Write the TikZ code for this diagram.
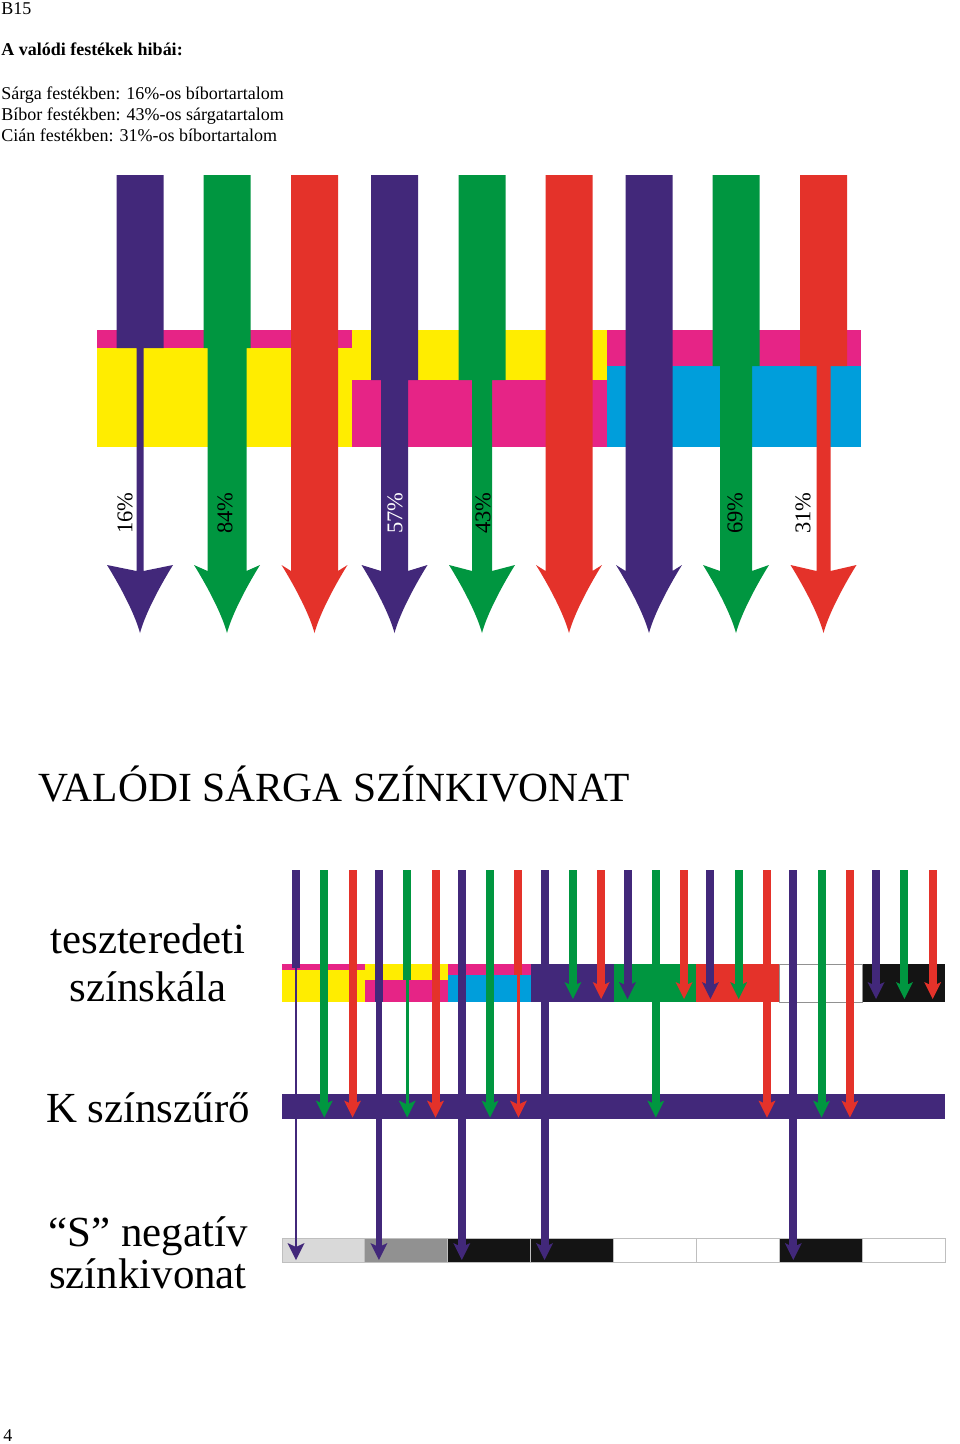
\documentclass[tikz,border=0pt]{standalone}
\usepackage{fontspec}
\setmainfont{Liberation Serif}
\definecolor{lila}{RGB}{66,40,122}
\definecolor{zold}{RGB}{0,150,64}
\definecolor{piros}{RGB}{228,50,42}
\definecolor{bibor}{RGB}{230,36,134}
\definecolor{sarga}{RGB}{255,237,0}
\definecolor{cian}{RGB}{0,158,219}
\definecolor{fekete}{RGB}{20,20,20}
\definecolor{vszurke}{RGB}{217,217,217}
\definecolor{kszurke}{RGB}{145,145,145}
% small arrow head: x, y of the barbs, colour
\newcommand{\kisfej}[3]{\fill[#3] (#1-8.5,#2) -- (#1,#2+4) -- (#1+8.5,#2) -- (#1,#2+17) -- cycle;}
\tikzset{
  szoveg/.style={anchor=base west, inner sep=0, font=\fontsize{12.8}{15}\selectfont},
  szazalek/.style={rotate=90, inner sep=0, font=\fontsize{16}{16}\selectfont},
  felirat/.style={anchor=base, inner sep=0, font=\fontsize{30.5}{31}\selectfont}
}
\begin{document}
\begin{tikzpicture}[x=0.25mm, y=-0.25mm]
  \fill[white] (0,0) rectangle (960,1444);
  \useasboundingbox (0,0) rectangle (960,1444);
  \node[szoveg] (b15) at (1,14) {B15};
  \node[szoveg, font=\fontsize{12.8}{15}\selectfont\bfseries] (cimsor) at (1,55) {A valódi festékek hibái:};
  \node[szoveg] (sor1) at (1,99) {Sárga festékben: 16\%-os bíbortartalom};
  \node[szoveg] (sor2) at (1,120) {Bíbor festékben: 43\%-os sárgatartalom};
  \node[szoveg] (sor3) at (1,141) {Cián festékben: 31\%-os bíbortartalom};
  % festek savok
  \fill[bibor] (97,330) rectangle (352,348);
  \fill[sarga] (97,348) rectangle (352,447);
  \fill[sarga] (352,330) rectangle (607,380);
  \fill[bibor] (352,380) rectangle (607,447);
  \fill[bibor] (607,330) rectangle (861,366);
  \fill[cian] (607,366) rectangle (861,447);
  % nagy nyilak: kozep, also szelesseg, toresi pont, szin
  \foreach \cx/\lw/\by/\col in {140/7/348/lila, 227/39/348/zold, 314.5/47/400/piros,
      394.5/27/380/lila, 482/20/380/zold, 569/47/400/piros,
      649/47/400/lila, 736/32/366/zold, 823.5/14/366/piros}
    \fill[\col] (\cx-23.5,175) -- (\cx+23.5,175) -- (\cx+23.5,\by) -- (\cx+\lw/2,\by)
      -- (\cx+\lw/2,571) -- (\cx+33,565) .. controls (\cx+23,581) and (\cx+6,611) .. (\cx,633)
      .. controls (\cx-6,611) and (\cx-23,581) .. (\cx-33,565) -- (\cx-\lw/2,571)
      -- (\cx-\lw/2,\by) -- (\cx-23.5,\by) -- cycle;
  \node[szazalek] (p16) at (125,513) {16\%};
  \node[szazalek] (p84) at (225,513) {84\%};
  \node[szazalek, white] (p57) at (395,513) {57\%};
  \node[szazalek] (p43) at (483,513) {43\%};
  \node[szazalek] (p69) at (735,513) {69\%};
  \node[szazalek] (p31) at (803,513) {31\%};
  % also resz
  \node[anchor=base west, inner sep=0, font=\fontsize{29.5}{30}\selectfont] (cim) at (38,801) {VALÓDI SÁRGA SZÍNKIVONAT};
  \node[felirat] (teszt1) at (148,953) {teszteredeti};
  \node[felirat] (teszt2) at (148,1001) {színskála};
  \node[felirat] (szuro) at (148,1122) {K színszűrő};
  \node[felirat] (neg1) at (148,1246) {“S” negatív};
  \node[felirat] (neg2) at (148,1288) {színkivonat};
  % teszteredeti szinskala
  \fill[bibor] (282,964) rectangle (364.9,969.5);
  \fill[sarga] (282,969.5) rectangle (364.9,1002);
  \fill[sarga] (364.9,964) rectangle (447.75,980);
  \fill[bibor] (364.9,980) rectangle (447.75,1002);
  \fill[bibor] (447.75,964) rectangle (530.6,975);
  \fill[cian] (447.75,975) rectangle (530.6,1002);
  \foreach \i/\col in {3/lila, 4/zold, 5/piros, 7/fekete}
    \fill[\col] ({282+82.875*\i},964) rectangle ++(82.875,38);
  \draw[kszurke, line width=0.7pt] (779.25,964) rectangle (862.1,1002);
  % K szinszuro
  \fill[lila] (282,1094) rectangle (945,1119);
  % S negativ
  \foreach \i/\col in {0/vszurke, 1/kszurke, 2/fekete, 3/fekete, 4/white, 5/white, 6/fekete, 7/white}
    \filldraw[fill=\col, draw=black!25, line width=0.6pt] ({282+82.875*\i},1238) rectangle ++(82.875,24);
  % vekony nyilak: x, fej helye, szin
  \foreach \x/\h/\col in {461.8/1243/lila, 544.6/1243/lila, 793.3/1243/lila,
      324.3/1100.5/zold, 352.6/1100.5/piros, 435.5/1100.5/piros, 490.1/1100.5/zold,
      655.8/1100.5/zold, 767/1100.5/piros, 821.6/1100.5/zold, 849.9/1100.5/piros,
      572.9/982/zold, 601.2/982/piros, 627.5/982/lila, 684.1/982/piros, 710.4/982/lila,
      738.7/982/zold, 876.1/982/lila, 904.4/982/zold, 932.7/982/piros}
    {\fill[\col] (\x-4,870) rectangle (\x+4,\h+4);
     \kisfej{\x}{\h}{\col}}
  \fill[lila] (292,870) rectangle (300,968);
  \draw[lila, line width=1.1pt] (296,968) -- (296,1247);
  \kisfej{296}{1243}{lila}
  \fill[lila] (374.9,870) rectangle (382.9,1002);
  \fill[lila] (375.9,1002) rectangle (381.9,1247);
  \kisfej{378.9}{1243}{lila}
  \fill[zold] (403.2,870) rectangle (411.2,980);
  \fill[zold] (405.7,980) rectangle (408.7,1104.5);
  \kisfej{407.2}{1100.5}{zold}
  \fill[piros] (514.4,870) rectangle (522.4,975);
  \fill[piros] (516.9,975) rectangle (519.9,1104.5);
  \kisfej{518.4}{1100.5}{piros}
  \node[szoveg] (oldal) at (3,1441) {4};
\end{tikzpicture}
\end{document}
